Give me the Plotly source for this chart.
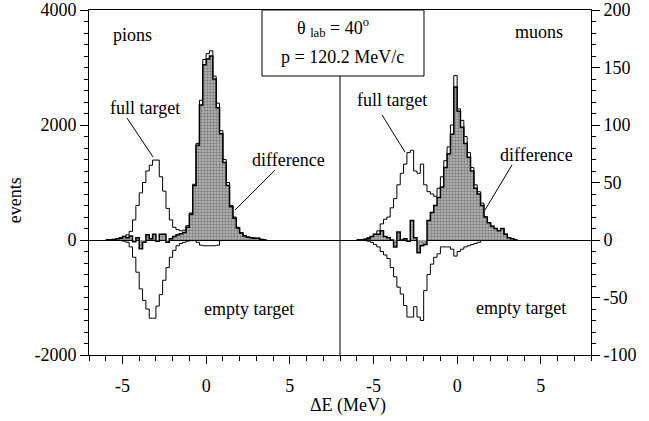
import plotly.graph_objects as go

# bin edges (MeV), 0.2 MeV bins
edges = [round(-6.0 + 0.2 * i, 2) for i in range(49)]

# ---- pions (left panel, events) ----
pion_full = [0, 0, 10, 20, 40, 60, 90, 150, 350, 600, 820, 1000, 1200, 1300, 1390, 1390,
             1100, 850, 550, 350, 220, 180, 160, 170, 250, 470, 970, 1680, 2430, 3140, 3240, 3290,
             2850, 2380, 1900, 1400, 1000, 600, 400, 220, 130, 80, 55, 40, 35, 30, 10, 0]
pion_empty = [0, 0, 0, 0, 10, 20, 40, 120, 300, 560, 850, 1050, 1200, 1360, 1360, 1150,
              950, 700, 480, 300, 180, 100, 60, 40, 20, 10, 10, 40, 90, 100, 100, 100,
              100, 90, 10, 0, 0, 0, 0, 0, 0, 0, 0, 0, 0, 0, 0, 0]
pion_diff = [0, 0, 10, 20, 30, 60, 40, 70, -30, 40, -150, -40, 90, 20, 100, -20,
             100, 100, -40, 20, 60, 90, 110, 130, 220, 450, 950, 1650, 2350, 3050, 3150, 3200,
             2800, 2300, 1850, 1350, 950, 580, 380, 210, 120, 70, 50, 40, 30, 30, 10, 0]

# ---- muons (right panel, events) ----
muon_full = [0, 0, 1, 2, 3, 5, 8, 14, 18, 20, 28, 36, 48, 58, 66, 76,
             78, 60, 58, 66, 48, 42, 40, 38, 45, 55, 69, 81, 100, 143, 114, 104,
             90, 76, 63, 48, 42, 32, 20, 15, 12, 10, 8, 10, 5, 2, 1, 0]
muon_empty = [0, 0, 0, 1, 2, 4, 6, 10, 13, 16, 24, 32, 41, 47, 57, 67,
              67, 58, 67, 70, 44, 30, 21, 15, 12, 6, 6, 6, 8, 14, 10, 8,
              6, 5, 4, 3, 2, 0, 0, 0, 0, 0, 0, 0, 0, 0, 0, 0]
muon_diff = [0, 0, 0, 1, 3, 5, 5, 8, 3, 2, 0, -6, 7, 0, 1, -1,
             17, 2, -11, -5, -4, 17, 24, 30, 37, 46, 63, 75, 92, 133, 112, 98,
             84, 72, 60, 45, 40, 30, 20, 15, 12, 10, 8, 10, 5, 2, 1, 0]

x_ticks = [-5, 0, 5]
x_text = ["-5", "0", "5"]
y1_ticks = [-2000, 0, 2000, 4000]
y1_text = ["-2000", "0", "2000", "4000"]
y2_ticks = [-100, -50, 0, 50, 100, 150, 200]
y2_text = ["-100", "-50", "0", "50", "100", "150", "200"]

FONT = "Liberation Serif, Times New Roman, serif"


def step(vals, sign=1):
    return [sign * v for v in vals] + [sign * vals[-1]]


fig = go.Figure()
for xa, ya, full, empty, diff in [("x", "y", pion_full, pion_empty, pion_diff),
                                  ("x2", "y2", muon_full, muon_empty, muon_diff)]:
    fig.add_trace(go.Scatter(x=edges, y=step(full), mode="lines", line_shape="hv",
                             line=dict(color="black", width=1), xaxis=xa, yaxis=ya,
                             showlegend=False, hoverinfo="skip"))
    fig.add_trace(go.Scatter(x=edges, y=step(empty, -1), mode="lines", line_shape="hv",
                             line=dict(color="black", width=1), xaxis=xa, yaxis=ya,
                             showlegend=False, hoverinfo="skip"))
    fig.add_trace(go.Scatter(x=edges, y=step(diff), mode="lines", line_shape="hv",
                             line=dict(color="black", width=1.5), fill="tozeroy",
                             fillcolor="rgb(150,150,150)",
                             fillpattern=dict(shape=".", fgcolor="rgb(70,70,70)",
                                              bgcolor="rgb(185,185,185)", size=3, solidity=0.5),
                             xaxis=xa, yaxis=ya, showlegend=False, hoverinfo="skip"))

xcommon = dict(range=[-7, 8], tickmode="array", tickvals=x_ticks, ticktext=x_text,
               ticks="outside", ticklen=8, tickwidth=1, tickcolor="black", showline=True,
               linecolor="black", linewidth=1, mirror=True, showgrid=False, zeroline=False,
               automargin=False, ticklabelstandoff=6,
               tickfont=dict(family=FONT, size=18, color="black"),
               minor=dict(tickmode="linear", tick0=0, dtick=1, ticks="outside", ticklen=5,
                          tickcolor="black", showgrid=False))
ycommon = dict(ticks="outside", ticklen=8, tickwidth=1, tickcolor="black", showline=True,
               linecolor="black", linewidth=1, showgrid=False, zeroline=True,
               zerolinecolor="black", zerolinewidth=1, automargin=False,
               tickfont=dict(family=FONT, size=18, color="black"))

fig.update_layout(
    width=649, height=421,
    margin=dict(l=89, r=58, t=10, b=66),
    paper_bgcolor="white", plot_bgcolor="white",
    xaxis=dict(domain=[0, 0.5], anchor="y", **xcommon),
    xaxis2=dict(domain=[0.5, 1], anchor="y2", **xcommon),
    yaxis=dict(domain=[0, 1], anchor="x", range=[-2000, 4000], tickmode="array",
               tickvals=y1_ticks, ticktext=y1_text,
               minor=dict(tickmode="linear", tick0=0, dtick=200, ticks="outside", ticklen=4,
                          tickcolor="black", showgrid=False), **ycommon),
    yaxis2=dict(domain=[0, 1], anchor="x2", side="right", range=[-100, 200], tickmode="array",
                tickvals=y2_ticks, ticktext=y2_text,
                minor=dict(tickmode="linear", tick0=0, dtick=10, ticks="outside", ticklen=4,
                           tickcolor="black", showgrid=False), **ycommon),
    font=dict(family=FONT, size=18, color="black"),
)

# divider between panels and header box
fig.add_shape(type="line", xref="paper", yref="paper", x0=0.5, x1=0.5, y0=0, y1=1,
              line=dict(color="black", width=1))
fig.add_shape(type="rect", xref="paper", yref="paper", x0=0.3446, x1=0.6673, y0=0.8087, y1=1.0,
              line=dict(color="black", width=1), fillcolor="white", layer="above")

# pointer lines
for (x0, y0, x1, y1) in [(0.0757, 0.687, 0.1275, 0.574), (0.3705, 0.536, 0.2908, 0.420),
                         (0.5837, 0.696, 0.6295, 0.588), (0.8426, 0.551, 0.7888, 0.420)]:
    fig.add_shape(type="line", xref="paper", yref="paper", x0=x0, y0=y0, x1=x1, y1=y1,
                  line=dict(color="black", width=1))

ann = [
    ("pions", 0.0876, 0.9275), ("muons", 0.8964, 0.9362),
    ("full target", 0.1116, 0.716), ("difference", 0.3984, 0.5652),
    ("empty target", 0.3187, 0.1333), ("full target", 0.6036, 0.7391),
    ("difference", 0.8924, 0.5797), ("empty target", 0.8606, 0.1362),
    ("θ <sub>lab</sub> = 40<sup>o</sup>", 0.4861, 0.948),
    ("p = 120.2 MeV/c", 0.504, 0.864),
]
for t, x, y in ann:
    fig.add_annotation(text=t, x=x, y=y, xref="paper", yref="paper", showarrow=False,
                       xanchor="center", yanchor="middle",
                       font=dict(family=FONT, size=18, color="black"))

fig.add_annotation(text="ΔE (MeV)", x=0.516, y=-0.145, xref="paper", yref="paper",
                   showarrow=False, xanchor="center", yanchor="middle",
                   font=dict(family=FONT, size=18, color="black"))
fig.add_annotation(text="events", x=-0.147, y=0.449, xref="paper", yref="paper",
                   showarrow=False, textangle=-90, xanchor="center", yanchor="middle",
                   font=dict(family=FONT, size=18, color="black"))

fig.write_html("out.html")
